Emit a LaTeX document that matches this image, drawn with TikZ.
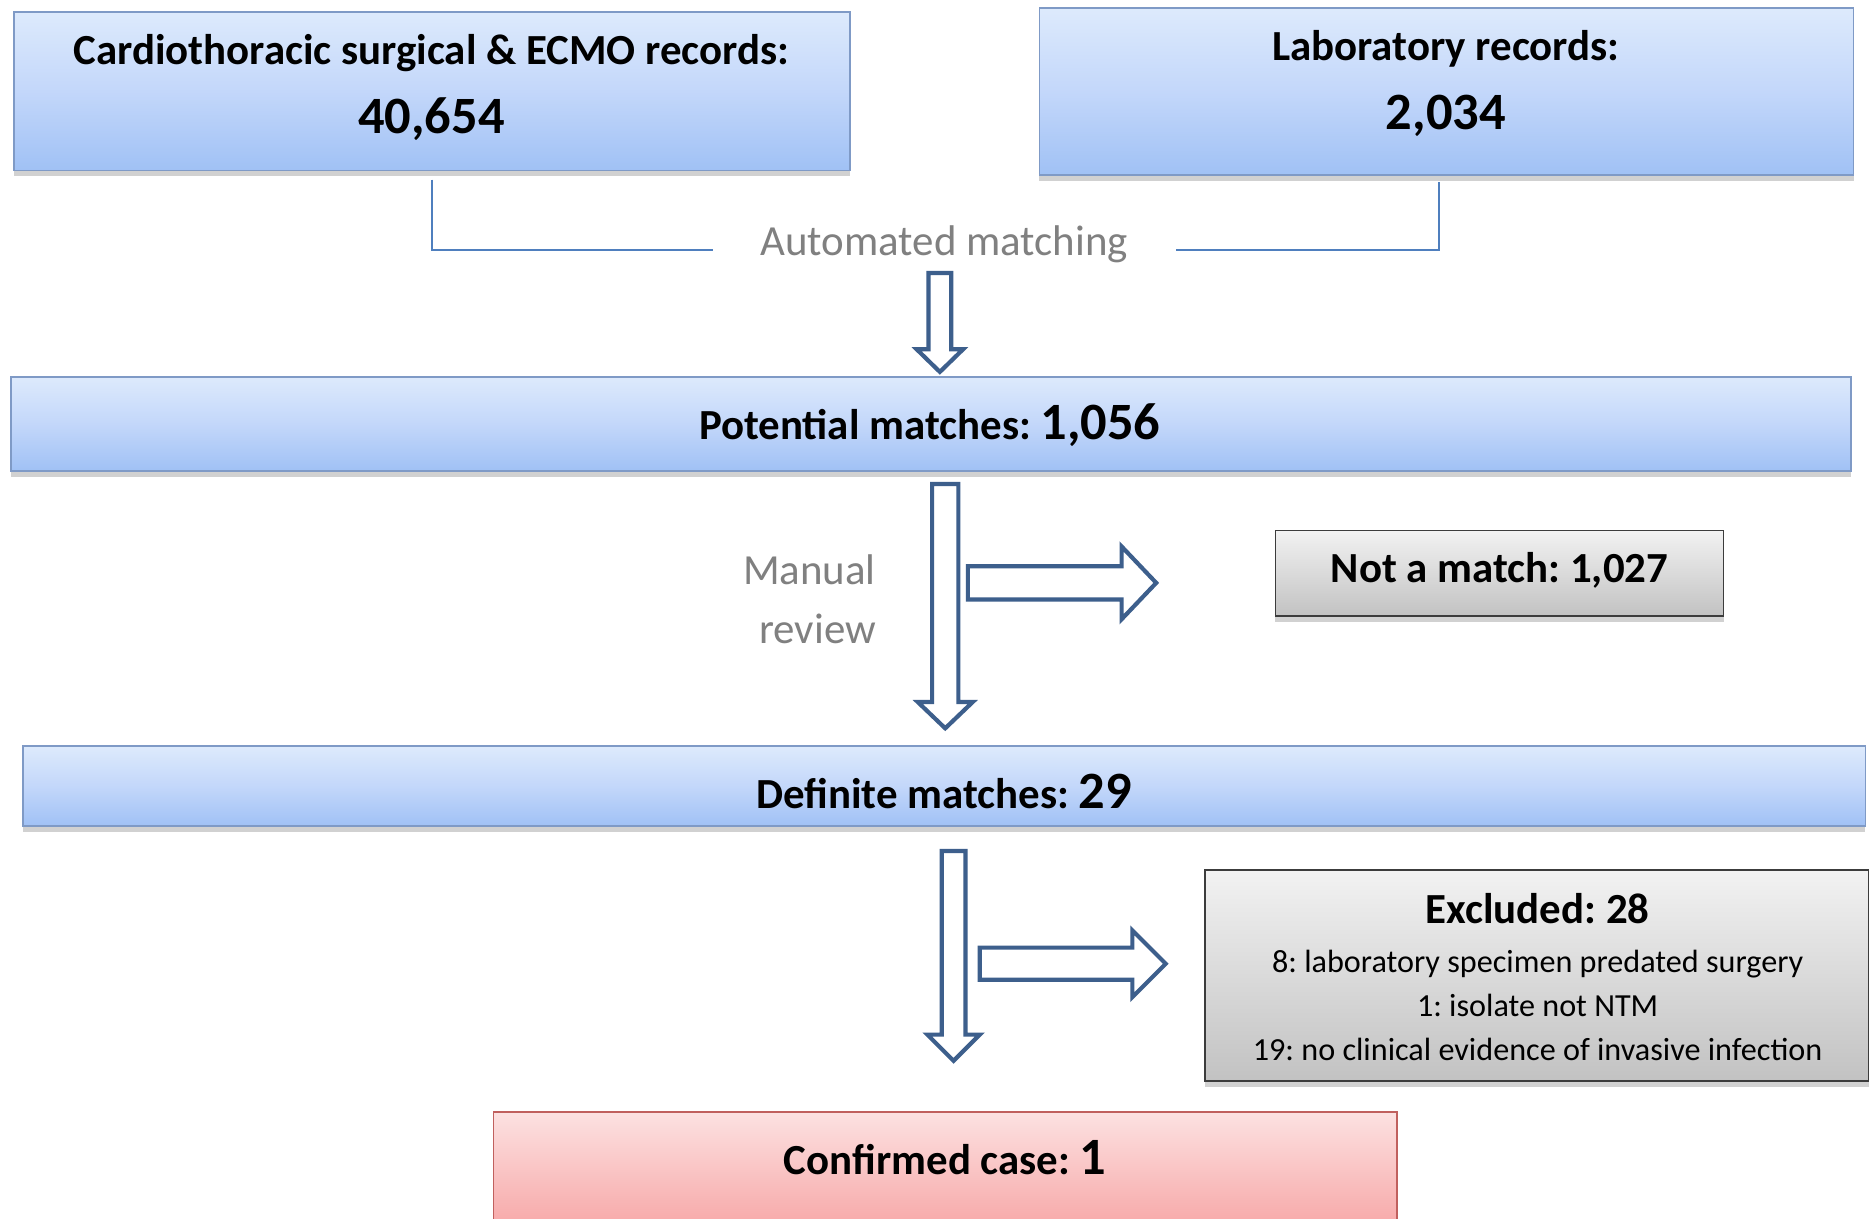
\documentclass[tikz,border=0pt]{standalone}
\usepackage{fontspec}
\setmainfont{Carlito}
\usetikzlibrary{shadows,calc}
\frenchspacing
\definecolor{bltop}{HTML}{DDEAFC}
\definecolor{blmid}{HTML}{C3D7FA}
\definecolor{blbot}{HTML}{A0C1F5}
\definecolor{blborder}{HTML}{7F9AC6}
\definecolor{grtop}{HTML}{F2F2F2}
\definecolor{grbot}{HTML}{C2C2C2}
\definecolor{grborder}{HTML}{3C3C3C}
\definecolor{pktop}{HTML}{FCE1E1}
\definecolor{pkbot}{HTML}{F7A6A6}
\definecolor{pkborder}{HTML}{C0605E}
\definecolor{arrowc}{HTML}{3D5F8C}
\definecolor{linec}{HTML}{4F7FBE}
\definecolor{graytext}{HTML}{808080}
\tikzset{
  boxbase/.style={rectangle, inner sep=0pt, line width=1.5pt,
    drop shadow={shadow xshift=0pt, shadow yshift=-5pt, fill=black!18, opacity=1}},
  bluebox/.style={boxbase, draw=blborder, top color=bltop, bottom color=blbot, middle color=blmid},
  greybox/.style={boxbase, draw=grborder, top color=grtop, bottom color=grbot},
  pinkbox/.style={boxbase, draw=pkborder, top color=pktop, bottom color=pkbot},
  blockarrow/.style={draw=arrowc, fill=white, line width=3.5pt, line join=miter},
  conn/.style={draw=linec, line width=1.5pt},
  btext/.style={anchor=base, inner sep=0pt, font=\bfseries\fontsize{36}{42}\selectfont},
  bnum/.style={anchor=base, inner sep=0pt, font=\bfseries\fontsize{44}{50}\selectfont},
  gtext/.style={inner sep=0pt, text=graytext, font=\fontsize{36}{42}\selectfont},
  stext/.style={anchor=base, inner sep=0pt, font=\fontsize{27}{32}\selectfont},
}
\newcommand\dnarrow[6]{% xc, ytop, ybase, ytip, shaft half, head half
  \draw[blockarrow] ({#1-#5},#2) -- ({#1+#5},#2) -- ({#1+#5},#3) -- ({#1+#6},#3)
    -- (#1,#4) -- ({#1-#6},#3) -- ({#1-#5},#3) -- cycle;}
\newcommand\rtarrow[6]{% xleft, yc, xbase, xtip, shaft half, head half
  \draw[blockarrow] (#1,{#2-#5}) -- (#3,{#2-#5}) -- (#3,{#2-#6}) -- (#4,#2)
    -- (#3,{#2+#6}) -- (#3,{#2+#5}) -- (#1,{#2+#5}) -- cycle;}
\begin{document}
\begin{tikzpicture}[x=1pt,y=-1pt]
\useasboundingbox (0,0) rectangle (1568,1022);
\fill[white] (0,0) rectangle (1568,1022);

% boxes
\node[bluebox, minimum width=701pt, minimum height=133pt] (b1) at (362.5,76.5) {};
\node[bluebox, minimum width=683pt, minimum height=140pt] (b2) at (1213.5,77) {};
\node[bluebox, minimum width=1544pt, minimum height=79pt] (b3) at (781,355.5) {};
\node[greybox, minimum width=376pt, minimum height=72pt] (nm) at (1258,481) {};
\node[bluebox, minimum width=1546pt, minimum height=67pt] (b4) at (792,659.5) {};
\node[greybox, minimum width=557pt, minimum height=177pt] (ex) at (1289.5,818.5) {};
\node[pinkbox, minimum width=758pt, minimum height=100pt] (cc) at (793,983) {};

% texts
\node[btext] (t1) at (362,54) {Cardiothoracic surgical \& ECMO records:};
\node[bnum] (n1) at (362,112) {40,654};
\node[btext] (t2) at (1213,51) {Laboratory records:};
\node[bnum] (n2) at (1213,109) {2,034};
\node[anchor=base, inner sep=0pt] (t3) at (780,369) {{\bfseries\fontsize{36}{42}\selectfont Potential matches: }{\bfseries\fontsize{44}{50}\selectfont 1,056}};
\node[btext] (t4) at (1258,489) {Not a match: 1,027};
\node[anchor=base, inner sep=0pt] (t5) at (792,678) {{\bfseries\fontsize{36}{42}\selectfont Definite matches: }{\bfseries\fontsize{44}{50}\selectfont 29}};
\node[btext] (t6) at (1290,775) {Excluded: 28};
\node[stext] (t7) at (1290,816) {8: laboratory specimen predated surgery};
\node[stext] (t8) at (1290,853) {1: isolate not NTM};
\node[stext] (t9) at (1290,890) {19: no clinical evidence of invasive infection};
\node[anchor=base, inner sep=0pt] (t10) at (793,985) {{\bfseries\fontsize{36}{42}\selectfont Confirmed case: }{\bfseries\fontsize{44}{50}\selectfont 1}};

\node[gtext, anchor=base] (am) at (792,214) {Automated matching};
\node[gtext, anchor=base east] (mr1) at (735,490) {Manual};
\node[gtext, anchor=base east] (mr2) at (735,540) {review};

% connectors
\coordinate (l1) at (598,210);
\coordinate (r1) at (987,210);
\draw[conn] ($(b1.south)+(0,7)$) |- (l1);
\draw[conn] ($(b2.south)+(-6.5,5)$) |- (r1);

% block arrows
\dnarrow{788.5}{229}{293}{312}{9.5}{19.5}
\dnarrow{793}{406}{589}{611}{11}{23}
\rtarrow{812}{489}{941}{970}{14}{30.5}
\dnarrow{800}{714}{868}{890}{10}{22}
\rtarrow{822}{808.5}{950}{978}{13.5}{28}
\end{tikzpicture}
\end{document}
